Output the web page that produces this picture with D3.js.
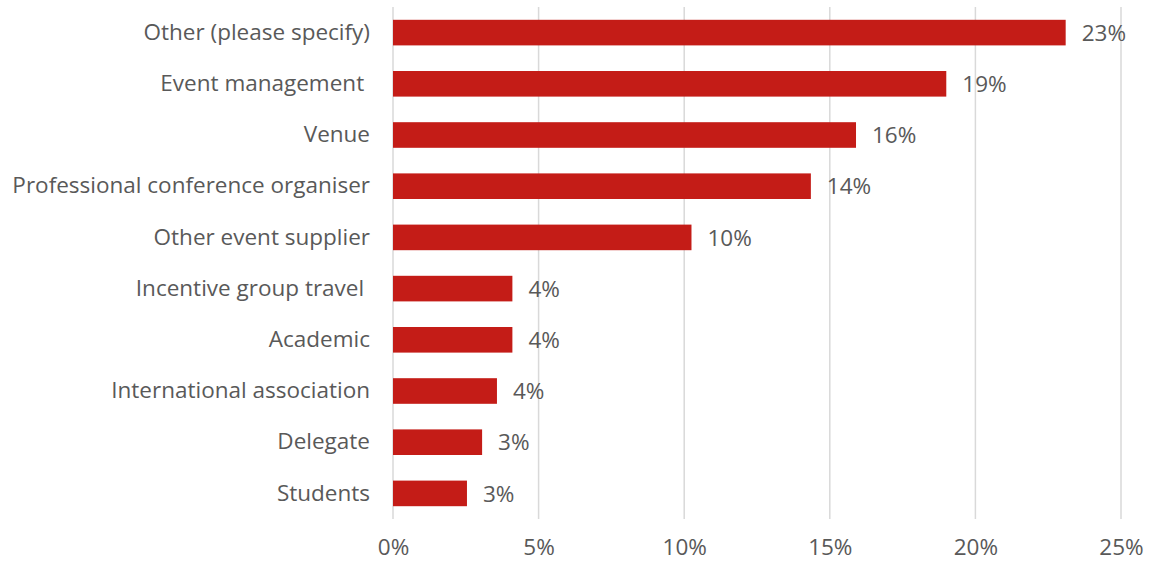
<!DOCTYPE html>
<html>
<head>
<meta charset="utf-8">
<script src="https://cdn.jsdelivr.net/npm/d3@7"></script>
<style>
  html, body { margin: 0; padding: 0; background: #fff; }
  svg { display: block; font-family: "Open Sans", "Noto Sans", sans-serif; }
  svg text { white-space: pre; }
</style>
</head>
<body>
<svg id="chart" width="1150" height="562"></svg>
<script>
// Respondent groups, top to bottom
const categories = [
  "Other (please specify)",
  "Event management ",
  "Venue",
  "Professional conference organiser",
  "Other event supplier",
  "Incentive group travel ",
  "Academic",
  "International association",
  "Delegate",
  "Students"
];
// Share of respondents (fraction)
const shares = [0.231, 0.190, 0.159, 0.1435, 0.1025, 0.041, 0.041, 0.0357, 0.0306, 0.0254];
// Axis ticks
const xTicks = [0, 0.05, 0.10, 0.15, 0.20, 0.25];

const data = categories.map((c, i) => ({ name: c, value: shares[i] }));

const svg = d3.select("#chart");
const margin = { left: 393, right: 29, top: 7, bottom: 43 };
const W = 1150, H = 562;
const textColor = "#595959";
const fontSize = 22.5;
const fontFamily = "'Open Sans', 'Noto Sans', sans-serif";

const x = d3.scaleLinear().domain([0, 0.25]).range([margin.left, W - margin.right]);
const y = d3.scaleBand()
  .domain(categories)
  .range([margin.top, H - margin.bottom])
  .paddingInner(0.5)
  .paddingOuter(0.25);

// Vertical gridlines
svg.append("g")
  .selectAll("line")
  .data(xTicks)
  .join("line")
  .attr("x1", d => x(d)).attr("x2", d => x(d))
  .attr("y1", margin.top).attr("y2", H - margin.bottom)
  .attr("stroke", "#d9d9d9")
  .attr("stroke-width", 1.5);

// Bars
svg.append("g")
  .selectAll("rect")
  .data(data)
  .join("rect")
  .attr("x", x(0))
  .attr("y", d => y(d.name))
  .attr("width", d => x(d.value) - x(0))
  .attr("height", y.bandwidth())
  .attr("fill", "#c41c17");

const pct = d3.format(".0%");

// Value labels
svg.append("g")
  .selectAll("text")
  .data(data)
  .join("text")
  .attr("x", d => x(d.value) + 16)
  .attr("y", d => y(d.name) + y.bandwidth() / 2)
  .attr("dy", "0.36em")
  .attr("fill", textColor)
  .attr("font-size", fontSize)
  .attr("font-family", fontFamily)
  .text(d => pct(d.value));

// Category axis
const yAxis = d3.axisLeft(y).tickSize(0).tickPadding(23);
const gy = svg.append("g")
  .attr("transform", `translate(${x(0)},0)`)
  .call(yAxis);
gy.select(".domain").remove();
gy.selectAll("text")
  .attr("fill", textColor)
  .attr("font-size", fontSize)
  .attr("font-family", fontFamily);

// Value axis
const xAxis = d3.axisBottom(x).tickValues(xTicks).tickFormat(pct).tickSize(0).tickPadding(20);
const gx = svg.append("g")
  .attr("transform", `translate(0,${H - margin.bottom})`)
  .call(xAxis);
gx.select(".domain").remove();
gx.selectAll("text")
  .attr("fill", textColor)
  .attr("font-size", fontSize)
  .attr("font-family", fontFamily);
</script>
</body>
</html>
